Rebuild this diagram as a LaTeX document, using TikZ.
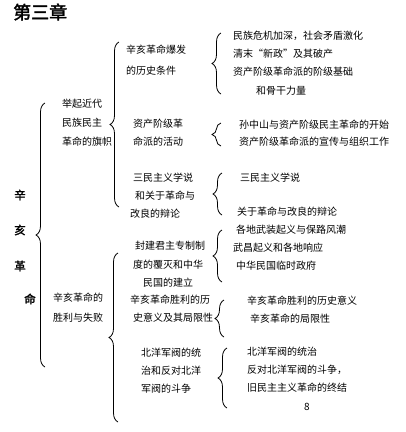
\documentclass[tikz,border=0pt]{standalone}
\usepackage{fontspec}
\setmainfont{Noto Sans CJK SC}[AutoFakeBold=2]
\usetikzlibrary{decorations.pathreplacing}

\begin{document}
\begin{tikzpicture}[x=1pt, y=-1pt,
    txt/.style={anchor=north west, inner sep=0pt, align=left, font=\fontsize{10}{18}\selectfont},
    side/.style={inner sep=0pt, font=\fontsize{11.5}{12}\selectfont\bfseries},
    brc/.style={decorate, decoration={brace, amplitude=9pt}, line width=0.8pt}
]
\useasboundingbox (0,0) rectangle (406,432);
\node[anchor=west, inner sep=0pt, font=\fontsize{18}{18}\selectfont\bfseries] (title) at (13,12) {第三章};

% left column
\node[side] (xin) at (20,195) {辛};
\node[side] (hai) at (20,230) {亥};
\node[side] (ge) at (20,266) {革};
\node[side] (ming) at (30,299) {命};

% second column
\node[txt] (flag) at (62,99) {举起近代\\[1pt]民族民主\\[1pt]革命的旗帜};
\node[txt] (result) at (53,293) {辛亥革命的\\[2pt]胜利与失败};

% third column
\node[txt] (cond) at (126,45) {辛亥革命爆发\\[3pt]的历史条件};
\node[txt] (party) at (133,119) {资产阶级革\\命派的活动};
\node[txt] (theory) at (130,173) {\hspace{3pt}三民主义学说\\\hspace{5pt}和关于革命与\\改良的辩论};
\node[txt] (fall) at (133,241) {\hspace{2pt}封建君主专制制\\[1pt]度的覆灭和中华\\\hspace{10pt}民国的建立};
\node[txt] (meaning) at (130,295) {辛亥革命胜利的历\\\hspace{3pt}史意义及其局限性};
\node[txt] (beiyang) at (141,348) {北洋军阀的统\\治和反对北洋\\军阀的斗争};

% fourth column
\node[txt] (crisis) at (233,31) {民族危机加深，社会矛盾激化\\清末“新政”及其破产\\资产阶级革命派的阶级基础\\[1pt]\hspace{23pt}和骨干力量};
\node[txt] (sun) at (239,120) {孙中山与资产阶级民主革命的开始\\[-1pt]资产阶级革命派的宣传与组织工作};
\node[txt] (sanmin) at (240,173) {三民主义学说};
\node[txt] (debate) at (237,207) {关于革命与改良的辩论};
\node[txt] (rising) at (233,225) {\hspace{3pt}各地武装起义与保路风潮\\武昌起义和各地响应\\\hspace{3pt}中华民国临时政府};
\node[txt] (limit) at (247,296) {辛亥革命胜利的历史意义\\\hspace{3pt}辛亥革命的局限性};
\node[txt] (rule) at (247,347) {北洋军阀的统治\\反对北洋军阀的斗争，\\旧民主主义革命的终结};
\node[inner sep=0pt, font=\fontsize{10}{12}\selectfont] (page) at (307,407) {8};

% brace ends
\coordinate (b1s) at (45,367); \coordinate (b1e) at (45,103);
\coordinate (b2s) at (119,207); \coordinate (b2e) at (119,42);
\coordinate (b3s) at (118,422); \coordinate (b3e) at (118,253);
\coordinate (bas) at (221,94); \coordinate (bae) at (221,33);
\coordinate (bbs) at (221,146); \coordinate (bbe) at (221,123);
\coordinate (bcs) at (222,215); \coordinate (bce) at (222,173);
\coordinate (bds) at (222,282); \coordinate (bde) at (222,230);
\coordinate (bes) at (224,337); \coordinate (bee) at (224,300);
\coordinate (bfs) at (227,408); \coordinate (bfe) at (227,348);

\draw[brc] (b1s) -- (b1e);
\draw[brc] (b2s) -- (b2e);
\draw[brc] (b3s) -- (b3e);
\draw[brc] (bas) -- (bae);
\draw[brc] (bbs) -- (bbe);
\draw[brc] (bcs) -- (bce);
\draw[brc] (bds) -- (bde);
\draw[brc] (bes) -- (bee);
\draw[brc] (bfs) -- (bfe);
\end{tikzpicture}
\end{document}
